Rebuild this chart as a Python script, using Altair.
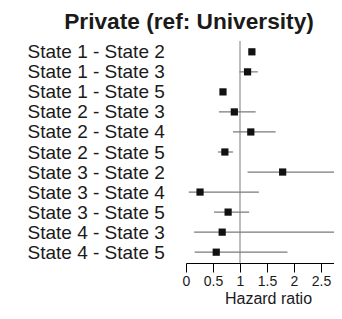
import altair as alt
import pandas as pd

labels = ["State 1 - State 2", "State 1 - State 3", "State 1 - State 5",
          "State 2 - State 3", "State 2 - State 4", "State 2 - State 5",
          "State 3 - State 2", "State 3 - State 4", "State 3 - State 5",
          "State 4 - State 3", "State 4 - State 5"]
hr = [1.22, 1.14, 0.685, 0.895, 1.20, 0.72, 1.79, 0.26, 0.78, 0.67, 0.56]
lower = [1.16, 0.99, 0.65, 0.61, 0.87, 0.59, 1.14, 0.05, 0.52, 0.15, 0.16]
upper = [1.28, 1.33, 0.72, 1.29, 1.66, 0.87, 2.81, 1.35, 1.17, 3.60, 1.88]
x_ticks = [0, 0.5, 1, 1.5, 2, 2.5]
ref_value = [1]

df = pd.DataFrame({"label": labels, "hr": hr, "lower": lower, "upper": upper})
ref = pd.DataFrame({"ref": ref_value})

FONT = "Liberation Sans"
xscale = alt.Scale(domain=[0, 2.741], nice=False, zero=False)
yaxis = alt.Axis(title=None, ticks=False, tickSize=0, domain=False,
                 labelAlign="left", labelPadding=159, labelBaseline="middle",
                 labelFontSize=19, labelFont=FONT, labelColor="#1a1a1a",
                 labelLimit=200, grid=False)
yscale = alt.Scale(type="point", padding=0.54)

xaxis = alt.Axis(values=x_ticks, format="~g", title="Hazard ratio", grid=False,
                 domainColor="black", domainWidth=1, tickColor="black", tickWidth=1,
                 tickSize=9, labelFontSize=14, labelFont=FONT, labelColor="#1a1a1a",
                 labelPadding=2, labelFlush=False, labelOverlap=False,
                 titleFont=FONT, titleFontSize=16,
                 titleFontWeight="normal", titleColor="#1a1a1a", titlePadding=2, titleX=82)

refline = alt.Chart(ref).mark_rule(color="#bdbdbd", strokeWidth=2).encode(
    x=alt.X("ref:Q", scale=xscale, axis=xaxis))

ci = alt.Chart(df).mark_rule(color="#7a7a7a", strokeWidth=1.2, clip=True).encode(
    x=alt.X("lower:Q", scale=xscale, axis=xaxis),
    x2="upper:Q",
    y=alt.Y("label:N", sort=labels, scale=yscale, axis=yaxis))

pts = alt.Chart(df).mark_square(color="#111111", size=52, opacity=1).encode(
    x=alt.X("hr:Q", scale=xscale, axis=xaxis),
    y=alt.Y("label:N", sort=labels, scale=yscale, axis=yaxis))

chart = alt.layer(refline, ci, pts).properties(
    width=148, height=222,
    title=alt.TitleParams("Private (ref: University)", font=FONT, fontSize=22.7,
                          fontWeight="bold", color="#1a1a1a", dx=-71, offset=6),
    autosize=alt.AutoSizeParams(type="none"),
    padding={"left": 178, "top": 33, "right": 0, "bottom": 44},
).configure_view(stroke=None)

chart.save("out.html", embed_options={"renderer": "svg", "actions": False})
